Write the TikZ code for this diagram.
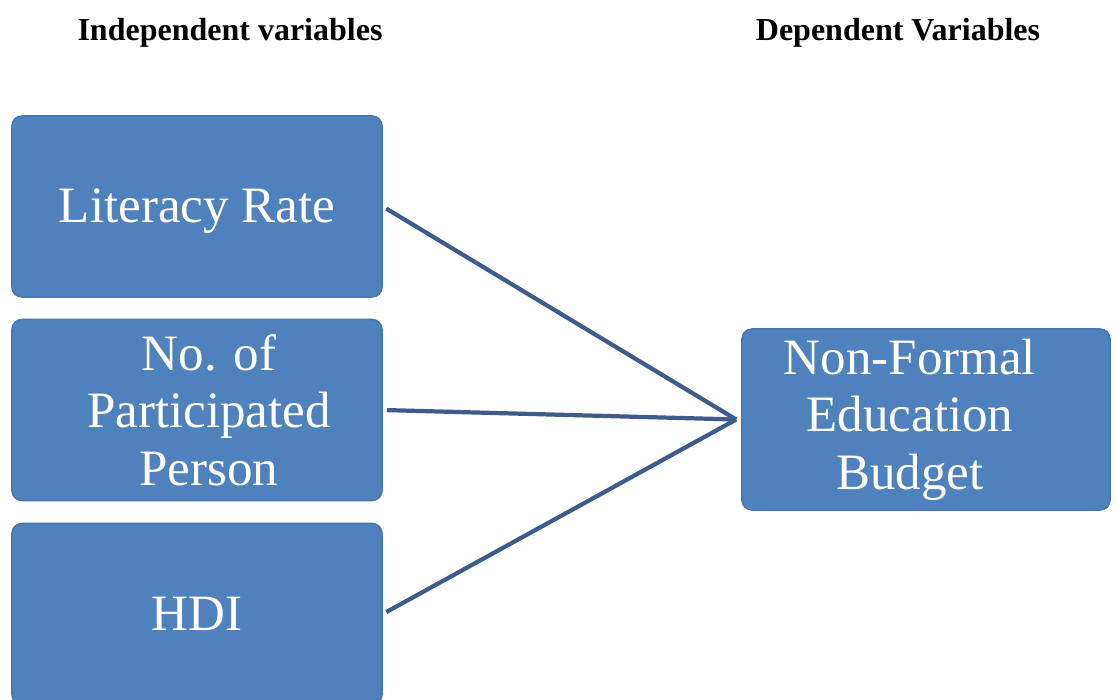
\documentclass[tikz,border=0pt]{standalone}
\usepackage{fontspec}
\setmainfont{Liberation Serif}
\usetikzlibrary{positioning,calc}
\definecolor{boxblue}{HTML}{4F81BD}
\definecolor{boxedge}{HTML}{4677B4}
\definecolor{linkblue}{HTML}{3D5C8C}

\begin{document}
\begin{tikzpicture}[x=0.01cm,y=-0.01cm,
  varbox/.style={draw=boxedge,fill=boxblue,rounded corners=0.1cm,minimum width=3.70cm,minimum height=1.81cm,
    text=white,align=center,inner sep=0pt,font=\fontsize{14.5}{16.4}\selectfont},
  head/.style={font=\fontsize{9.1}{11}\selectfont\bfseries},
  link/.style={draw=linkblue,line width=1.2pt,shorten <=0.04cm}]
  \useasboundingbox (0,0) rectangle (1117,700);
  % headings
  \node[head] (indep) at (230,33) {Independent variables};
  \node[head] (dep) at (898,33) {Dependent Variables};
  % independent variables
  \node[varbox] (lit) at (197,206.5) {\raisebox{-0.155cm}[0pt][0pt]{Literacy Rate}};
  \node[varbox] (part) at (197,410) {\rule{0.24cm}{0pt}No. of\\\rule{0.24cm}{0pt}Participated\\\rule{0.24cm}{0pt}Person};
  \node[varbox] (hdi) at (197,614) {HDI};
  % dependent variable
  \node[varbox,minimum width=3.68cm] (budget) at (926,419.5) {Non-Formal\rule{0.32cm}{0pt}\\Education\rule{0.32cm}{0pt}\\Budget\rule{0.32cm}{0pt}};
  \coordinate (hub) at ($(budget.west)+(-5,0)$);
  \draw[link] (lit.east) -- (hub);
  \draw[link] (part.east) -- (hub);
  \draw[link] (hdi.east) -- (hub);
\end{tikzpicture}
\end{document}
